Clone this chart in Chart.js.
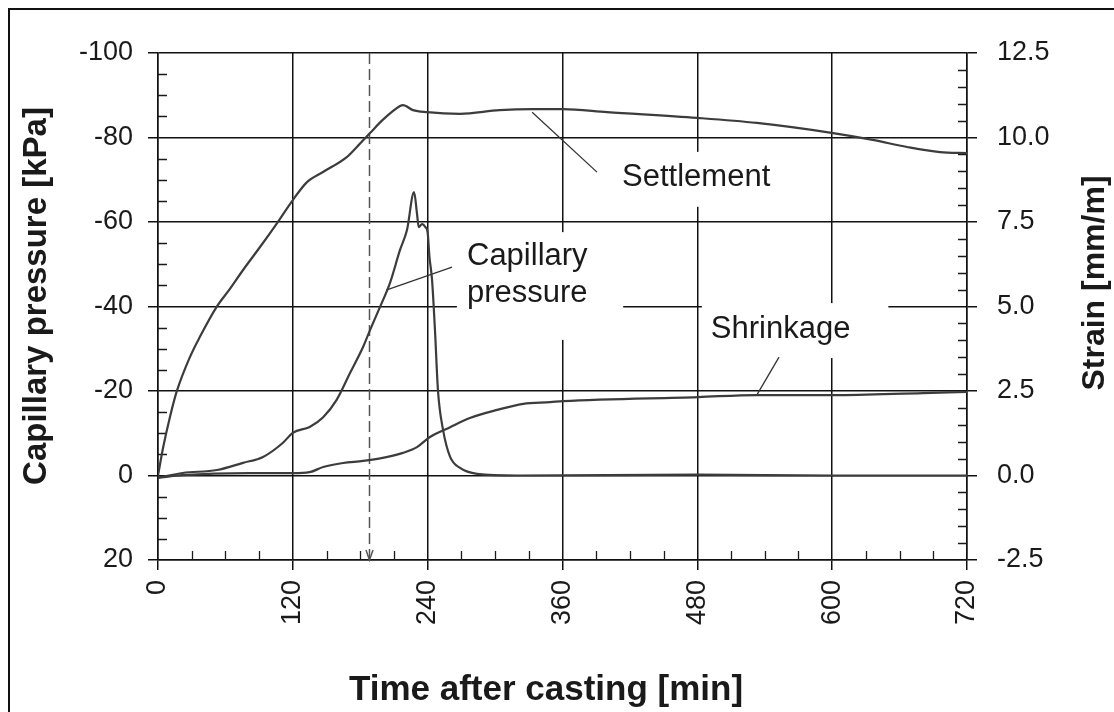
<!DOCTYPE html>
<html>
<head>
<meta charset="utf-8">
<script src="https://cdn.jsdelivr.net/npm/chart.js@4.4.0/dist/chart.umd.min.js"></script>
<style>
  html, body { margin: 0; padding: 0; background: #fff; }
  #wrap { width: 1114px; height: 712px; }
</style>
</head>
<body>
<div id="wrap"><canvas id="chart" width="1114" height="712"></canvas></div>
<script>
// time after casting [min]
const settlementTime = [0, 4.7, 10.7, 16.6, 28.5, 37.4, 52.2, 64, 75.7, 90.8, 106, 120, 132.6, 146.9, 168, 177, 188.7, 200, 215.4, 218, 227, 239.4, 268.8, 304, 333.8, 360.5, 399.6, 479.7, 533, 600.8, 636, 666.7, 696, 720]
// strain [mm/m]
const settlementStrain = [0, 0.85, 1.74, 2.48, 3.51, 4.11, 4.99, 5.52, 6.08, 6.76, 7.47, 8.15, 8.68, 8.98, 9.42, 9.72, 10.13, 10.52, 10.93, 10.96, 10.81, 10.75, 10.7, 10.81, 10.84, 10.84, 10.75, 10.58, 10.43, 10.13, 9.93, 9.72, 9.57, 9.54]

const capillaryTime = [0, 22, 52.5, 75.7, 93.5, 111, 120, 135, 147, 159, 171, 182.5, 188.7, 197.6, 206.5, 215.4, 221.6, 227.9, 230.5, 232, 235, 238, 240, 241.5, 243.9, 246.5, 249.2, 253.7, 260, 268.8, 284, 320, 480, 600, 720]
// capillary pressure [kPa]
const capillaryPressure = [0.5, -0.6, -1.3, -3.0, -4.4, -7.7, -10.1, -11.5, -13.8, -17.9, -24.3, -30.4, -34.4, -39.9, -45.6, -53.4, -58.1, -67.1, -62, -58.8, -59.5, -58.8, -57.5, -52, -46.3, -34.4, -20, -10.8, -4.4, -1.8, -0.4, 0, -0.2, 0, 0]

const shrinkageTime = [0, 22, 82, 120, 135, 147, 164.7, 182.5, 200, 218, 230.5, 242, 260, 277.6, 301.7, 325, 349, 360.5, 480.6, 533, 600.8, 681, 720]
const shrinkageStrain = [-0.07, 0.01, 0.07, 0.07, 0.1, 0.25, 0.37, 0.43, 0.52, 0.67, 0.84, 1.14, 1.43, 1.7, 1.94, 2.12, 2.17, 2.2, 2.32, 2.38, 2.38, 2.44, 2.47]

// dashed marker line [min]
const markTime = 188

const FONT = '"Liberation Sans", Arial, Helvetica, sans-serif'
const INK = '#1a1a1a'
const CURVE = '#3c3c3c'

// curve labels: text lines, anchor (min, kPa), white box (min, kPa), leader (min, kPa)
const notes = [
  {lines: ['Settlement'], at: [413, -68.5], box: [402, -76.6, 562, -63.6], leader: [333, -86.0, 390.7, -71.8]},
  {lines: ['Capillary', 'pressure'], at: [275, -49.8], box: [266, -57.6, 414, -32.1], leader: [203, -43.9, 261.7, -49.3]},
  {lines: ['Shrinkage'], at: [492, -32.5], box: [484, -40.8, 650, -27.8], leader: [533, -19.1, 552.7, -28.0]},
]

const pairs = (xs, ys) => xs.map((x, i) => ({x: x, y: ys[i]}))

const decor = {
  id: 'decor',
  beforeDatasetsDraw(chart) {
    const {ctx, chartArea: a} = chart
    const x = chart.scales.x, y = chart.scales.y, y1 = chart.scales.y1
    ctx.save()

    // label boxes hide the grid
    ctx.fillStyle = '#fff'
    notes.forEach(n => {
      const x0 = x.getPixelForValue(n.box[0]), y0 = y.getPixelForValue(n.box[1])
      const x1 = x.getPixelForValue(n.box[2]), yb = y.getPixelForValue(n.box[3])
      ctx.fillRect(x0, y0, x1 - x0, yb - y0)
    })

    // minor ticks, inward
    ctx.strokeStyle = INK
    ctx.lineWidth = 1.3
    ctx.beginPath()
    for (let v = -100; v <= 20; v += 5) {
      if (v % 20 === 0) continue
      const py = Math.round(y.getPixelForValue(v)) + 0.5
      ctx.moveTo(a.left, py); ctx.lineTo(a.left + 9, py)
    }
    for (let v = -2.5; v <= 12.5; v += 0.5) {
      if (Math.abs(v / 2.5 - Math.round(v / 2.5)) < 1e-6) continue
      const py = Math.round(y1.getPixelForValue(v)) + 0.5
      ctx.moveTo(a.right, py); ctx.lineTo(a.right - 9, py)
    }
    for (let v = 0; v <= 720; v += 30) {
      if (v % 120 === 0) continue
      const px = Math.round(x.getPixelForValue(v)) + 0.5
      ctx.moveTo(px, a.bottom); ctx.lineTo(px, a.bottom - 9)
    }
    ctx.stroke()

    // dashed marker with arrow
    const mx = Math.round(x.getPixelForValue(markTime)) + 0.5
    ctx.strokeStyle = '#555'
    ctx.lineWidth = 1.5
    ctx.setLineDash([11, 5])
    ctx.beginPath()
    ctx.moveTo(mx, a.top); ctx.lineTo(mx, a.bottom)
    ctx.stroke()
    ctx.setLineDash([])
    ctx.beginPath()
    ctx.moveTo(mx - 3.5, a.bottom - 10); ctx.lineTo(mx, a.bottom); ctx.lineTo(mx + 3.5, a.bottom - 10)
    ctx.stroke()

    // leaders and texts
    ctx.strokeStyle = '#333'
    ctx.lineWidth = 1.3
    ctx.fillStyle = INK
    ctx.font = '31px ' + FONT
    ctx.textAlign = 'left'
    ctx.textBaseline = 'alphabetic'
    notes.forEach(n => {
      ctx.beginPath()
      ctx.moveTo(x.getPixelForValue(n.leader[0]), y.getPixelForValue(n.leader[1]))
      ctx.lineTo(x.getPixelForValue(n.leader[2]), y.getPixelForValue(n.leader[3]))
      ctx.stroke()
      const tx = x.getPixelForValue(n.at[0]), ty = y.getPixelForValue(n.at[1])
      n.lines.forEach((t, i) => ctx.fillText(t, tx, ty + i * 37))
    })
    ctx.restore()
  },
  afterDraw(chart) {
    const {ctx} = chart
    ctx.save()
    // outer frame (top and left)
    ctx.strokeStyle = '#111'
    ctx.lineWidth = 2
    ctx.beginPath()
    ctx.moveTo(9, 712); ctx.lineTo(9, 9); ctx.lineTo(1114, 9)
    ctx.stroke()

    ctx.fillStyle = INK
    ctx.textAlign = 'center'
    ctx.textBaseline = 'middle'

    // axis titles
    ctx.save()
    ctx.font = 'bold 33px ' + FONT
    ctx.translate(37, 296)
    ctx.rotate(-Math.PI / 2)
    ctx.fillText('Capillary pressure [kPa]', 0, 0)
    ctx.restore()

    ctx.save()
    ctx.font = 'bold 32px ' + FONT
    ctx.translate(1095, 283)
    ctx.rotate(-Math.PI / 2)
    ctx.fillText('Strain [mm/m]', 0, 0)
    ctx.restore()

    ctx.font = 'bold 35px ' + FONT
    ctx.textBaseline = 'alphabetic'
    ctx.fillText('Time after casting [min]', 546, 700)
    ctx.restore()
  }
}

const gridStyle = {color: '#111', lineWidth: 1.5, tickLength: 10, tickColor: '#111'}

new Chart(document.getElementById('chart'), {
  type: 'line',
  data: {
    datasets: [
      {label: 'Settlement', data: pairs(settlementTime, settlementStrain), yAxisID: 'y1'},
      {label: 'Capillary pressure', data: pairs(capillaryTime, capillaryPressure), yAxisID: 'y'},
      {label: 'Shrinkage', data: pairs(shrinkageTime, shrinkageStrain), yAxisID: 'y1'},
    ].map(d => Object.assign(d, {
      borderColor: CURVE,
      borderWidth: 2.2,
      pointRadius: 0,
      fill: false,
      cubicInterpolationMode: 'monotone',
    }))
  },
  options: {
    responsive: false,
    animation: false,
    layout: {padding: {top: 53, left: 0, right: 0, bottom: 0}},
    plugins: {legend: {display: false}, tooltip: {enabled: false}},
    scales: {
      x: {
        type: 'linear',
        min: 0, max: 720,
        afterFit: s => { s.height = 152 },
        grid: gridStyle,
        border: {color: '#111', width: 1.5},
        ticks: {
          stepSize: 120,
          minRotation: 90, maxRotation: 90,
          padding: 10,
          color: INK,
          font: {family: FONT, size: 27},
        },
      },
      y: {
        position: 'left',
        reverse: true,
        min: -100, max: 20,
        afterFit: s => { s.width = 158 },
        grid: gridStyle,
        border: {color: '#111', width: 1.5},
        ticks: {
          stepSize: 20,
          padding: 15,
          color: INK,
          font: {family: FONT, size: 27},
        },
      },
      y1: {
        position: 'right',
        min: -2.5, max: 12.5,
        afterFit: s => { s.width = 147 },
        grid: Object.assign({}, gridStyle, {drawOnChartArea: false}),
        border: {color: '#111', width: 1.5},
        ticks: {
          stepSize: 2.5,
          padding: 20,
          color: INK,
          font: {family: FONT, size: 27},
          callback: v => v.toFixed(1),
        },
      },
    },
  },
  plugins: [decor],
})
</script>
</body>
</html>
